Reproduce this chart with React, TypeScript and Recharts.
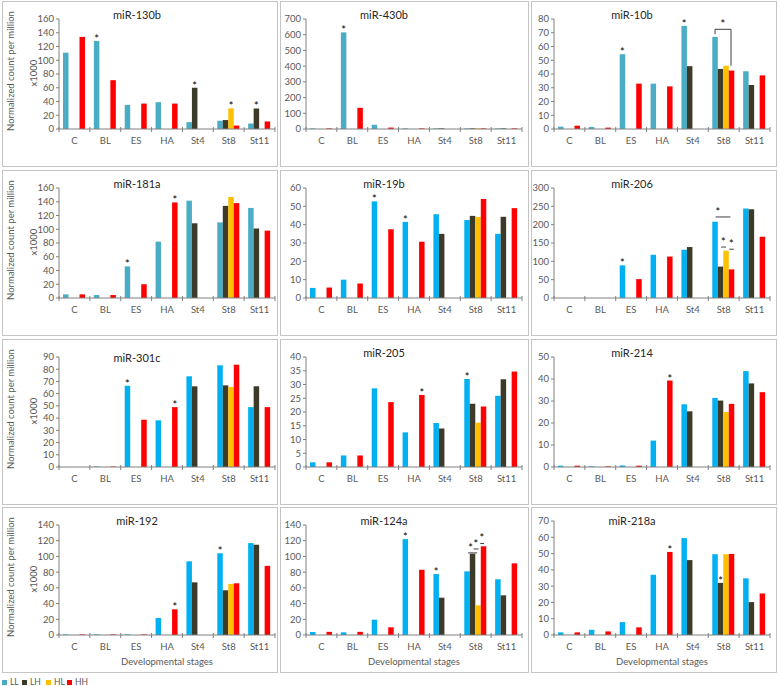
import React from "react";
import { BarChart, Bar, XAxis, YAxis, LabelList } from "recharts";

const stages = ["C", "BL", "ES", "HA", "St4", "St8", "St11"];
const groups = ["LL", "LH", "HL", "HH"];
const _ = null;

// normalized count per million (x1000), null = group not sampled at that stage
const mir130bLL = [111, 128, 35, 39, 10, 12, 8];
const mir130bLH = [_, _, _, _, 60, 13, 30];
const mir130bHL = [_, _, _, _, _, 30, _];
const mir130bHH = [134, 71, 37, 37, _, 5, 11];

const mir430bLL = [4, 615, 27, 4, 4, 4, 4];
const mir430bLH = [_, _, _, _, 4, 4, 4];
const mir430bHL = [_, _, _, _, _, 4, _];
const mir430bHH = [4, 135, 9, 4, _, 4, 4];

const mir10bLL = [1.7, 1.5, 54.4, 33, 75, 67, 42];
const mir10bLH = [_, _, _, _, 45.7, 43.7, 32];
const mir10bHL = [_, _, _, _, _, 46, _];
const mir10bHH = [2.4, 1, 33, 31, _, 42.5, 39];

const mir181aLL = [5.3, 4.3, 46, 82, 141.6, 110, 131];
const mir181aLH = [_, _, _, _, 108.7, 134, 101];
const mir181aHL = [_, _, _, _, _, 147, _];
const mir181aHH = [5.3, 4.3, 20, 139, _, 138, 98];

const mir19bLL = [5.5, 10, 52.7, 41.5, 45.7, 42.5, 35];
const mir19bLH = [_, _, _, _, 35, 44.8, 44.3];
const mir19bHL = [_, _, _, _, _, 44.2, _];
const mir19bHH = [5.7, 7.9, 37.5, 30.7, _, 54, 49];

const mir206LL = [0, 0, 89, 118, 131.6, 208, 244];
const mir206LH = [_, _, _, _, 139, 85.6, 242];
const mir206HL = [_, _, _, _, _, 129, _];
const mir206HH = [0, 0, 51.5, 113, _, 78, 167];

const mir301cLL = [0, 0.4, 66.5, 38.2, 74.2, 83.2, 49];
const mir301cLH = [_, _, _, _, 66, 66.8, 66];
const mir301cHL = [_, _, _, _, _, 65.5, _];
const mir301cHH = [0, 0.4, 38.7, 49, _, 83.7, 49];

const mir205LL = [1.7, 4.2, 28.6, 12.6, 16, 32, 25.9];
const mir205LH = [_, _, _, _, 14, 23, 31.9];
const mir205HL = [_, _, _, _, _, 16.1, _];
const mir205HH = [1.7, 4.2, 23.6, 26.2, _, 22, 34.7];

const mir214LL = [0.6, 0.3, 0.7, 12, 28.5, 31.4, 43.6];
const mir214LH = [_, _, _, _, 25.3, 30.2, 38];
const mir214HL = [_, _, _, _, _, 25, _];
const mir214HH = [0.6, 0.3, 0.6, 39.3, _, 28.7, 34];

const mir192LL = [0.8, 0.8, 0.8, 21.6, 93.8, 104, 117];
const mir192LH = [_, _, _, _, 67, 56.9, 115];
const mir192HL = [_, _, _, _, _, 65, _];
const mir192HH = [0.8, 0.8, 0.8, 32.7, _, 65.8, 88];

const mir124aLL = [3.8, 3.4, 19.5, 122, 77.6, 81, 70.9];
const mir124aLH = [_, _, _, _, 47.5, 103.5, 50.5];
const mir124aHL = [_, _, _, _, _, 37.8, _];
const mir124aHH = [4, 4, 9.8, 83, _, 112.9, 91.2];

const mir218aLL = [1.6, 3.2, 7.9, 37, 59.5, 49.6, 34.8];
const mir218aLH = [_, _, _, _, 46, 32, 20.2];
const mir218aHL = [_, _, _, _, _, 49.6, _];
const mir218aHH = [1.6, 2.2, 4.7, 51, _, 49.8, 25.5];

// y ticks
const ticks160 = [0, 20, 40, 60, 80, 100, 120, 140, 160];
const ticks700 = [0, 100, 200, 300, 400, 500, 600, 700];
const ticks80 = [0, 10, 20, 30, 40, 50, 60, 70, 80];
const ticks60 = [0, 10, 20, 30, 40, 50, 60];
const ticks300 = [0, 50, 100, 150, 200, 250, 300];
const ticks90 = [0, 10, 20, 30, 40, 50, 60, 70, 80, 90];
const ticks40 = [0, 5, 10, 15, 20, 25, 30, 35, 40];
const ticks50 = [0, 10, 20, 30, 40, 50];
const ticks140 = [0, 20, 40, 60, 80, 100, 120, 140];
const ticks70 = [0, 10, 20, 30, 40, 50, 60, 70];

// significance stars: [stage, group]
const stars130b = [["BL", "LL"], ["St4", "LH"], ["St8", "HL"], ["St11", "LH"]];
const stars430b = [["BL", "LL"]];
const stars10b = [["ES", "LL"], ["St4", "LL"]];
const stars181a = [["ES", "LL"], ["HA", "HH"]];
const stars19b = [["ES", "LL"], ["HA", "LL"]];
const stars206 = [["ES", "LL"]];
const stars301c = [["ES", "LL"], ["HA", "HH"]];
const stars205 = [["HA", "HH"], ["St8", "LL"]];
const stars214 = [["HA", "HH"]];
const stars192 = [["HA", "HH"], ["St8", "LL"]];
const stars124a = [["HA", "LL"], ["St4", "LL"]];
const stars218a = [["HA", "HH"], ["St8", "LH"]];

// comparison lines at St8 (x in bar widths from the LL bar, y in data units)
type Mark = { x0: number; x1: number; y: number; starX: number; drop0?: number; drop1?: number };
const marks10b: Mark[] = [{ x0: 0.5, x1: 3.4, y: 72.5, starX: 1.9, drop0: 69, drop1: 46 }];
const marks206: Mark[] = [
  { x0: 0.6, x1: 3.3, y: 221, starX: 1.0 },
  { x0: 1.6, x1: 2.5, y: 139, starX: 2.0 },
  { x0: 3.1, x1: 3.9, y: 133, starX: 3.45 },
];
const marks124a: Mark[] = [
  { x0: 0.7, x1: 2.35, y: 104.5, starX: 1.15 },
  { x0: 1.7, x1: 2.6, y: 109.5, starX: 2.1 },
  { x0: 2.9, x1: 3.6, y: 116.5, starX: 3.2 },
];

const TEAL = "#4BACC6";
const CYAN = "#00B0F0";
const colors: Record<string, string> = { LH: "#3D3A27", HL: "#FFC000", HH: "#FF0000" };

const panels = [
  { title: "miR-130b", s: [mir130bLL, mir130bLH, mir130bHL, mir130bHH], ticks: ticks160, stars: stars130b, blue: TEAL },
  { title: "miR-430b", s: [mir430bLL, mir430bLH, mir430bHL, mir430bHH], ticks: ticks700, stars: stars430b, blue: TEAL },
  { title: "miR-10b", s: [mir10bLL, mir10bLH, mir10bHL, mir10bHH], ticks: ticks80, stars: stars10b, blue: TEAL, marks: marks10b },
  { title: "miR-181a", s: [mir181aLL, mir181aLH, mir181aHL, mir181aHH], ticks: ticks160, stars: stars181a, blue: TEAL },
  { title: "miR-19b", s: [mir19bLL, mir19bLH, mir19bHL, mir19bHH], ticks: ticks60, stars: stars19b, blue: CYAN },
  { title: "miR-206", s: [mir206LL, mir206LH, mir206HL, mir206HH], ticks: ticks300, stars: stars206, blue: CYAN, marks: marks206 },
  { title: "miR-301c", s: [mir301cLL, mir301cLH, mir301cHL, mir301cHH], ticks: ticks90, stars: stars301c, blue: CYAN, titleDy: 5 },
  { title: "miR-205", s: [mir205LL, mir205LH, mir205HL, mir205HH], ticks: ticks40, stars: stars205, blue: CYAN },
  { title: "miR-214", s: [mir214LL, mir214LH, mir214HL, mir214HH], ticks: ticks50, stars: stars214, blue: CYAN },
  { title: "miR-192", s: [mir192LL, mir192LH, mir192HL, mir192HH], ticks: ticks140, stars: stars192, blue: CYAN },
  { title: "miR-124a", s: [mir124aLL, mir124aLH, mir124aHL, mir124aHH], ticks: ticks140, stars: stars124a, blue: CYAN, marks: marks124a },
  { title: "miR-218a", s: [mir218aLL, mir218aLH, mir218aHL, mir218aHH], ticks: ticks70, stars: stars218a, blue: CYAN, plotTop: 13 },
];

const FONT = "Lato, 'Open Sans', sans-serif";
const AXIS = "#808080";
const TEXT = "#595959";

const COL_X = [2, 280, 531];
const COL_W = [276, 249, 246];
const ROW_Y = [1, 170, 339, 507];
const PANEL_H = 166;
const PLOT_LEFT = [56, 25, 22];
const PLOT_W = 216;
const PLOT_BOTTOM = 127;
const Y_W = 22;
const X_H = 30;

function StageTick(props: any) {
  const { x, y, payload, index, band } = props;
  const h = band / 2;
  return (
    <g>
      <line x1={x - h} x2={x - h} y1={y - 2} y2={y + 3} stroke={AXIS} />
      {index === stages.length - 1 && <line x1={x + h} x2={x + h} y1={y - 2} y2={y + 3} stroke={AXIS} />}
      <text x={x} y={y + 15} textAnchor="middle" fontSize={9.5} fill={TEXT} fontFamily={FONT}>
        {payload.value}
      </text>
    </g>
  );
}

const geom = (p: any) => {
  const vb = p.viewBox || {};
  return {
    x: p.x ?? vb.x,
    y: p.y ?? vb.y,
    width: p.width ?? vb.width,
    height: p.height ?? vb.height,
  };
};

// label value is the stage name (zero / empty bars are skipped, so index is unreliable)
const starLabel = (stars: string[][], key: string) => (p: any) => {
  const stage = p.value;
  if (!stars.some((s) => s[0] === stage && s[1] === key)) return null;
  const g = geom(p);
  return (
    <text x={g.x + g.width / 2} y={g.y + 2} textAnchor="middle" fontSize={11} fill="#000" fontFamily={FONT}>
      *
    </text>
  );
};

// St8 comparison lines, hung on the LL bar
const markLabel = (marks: Mark[], ll: (number | null)[]) => (p: any) => {
  if (p.value !== "St8") return null;
  const v = ll[stages.indexOf("St8")];
  if (!v) return null;
  const g = geom(p);
  const bottom = g.y + g.height;
  const k = g.height / v;
  const Y = (n: number) => bottom - n * k;
  const X = (u: number) => g.x + u * g.width;
  return (
    <g>
      {marks.map((m, i) => (
        <g key={i}>
          <line x1={X(m.x0)} x2={X(m.x1)} y1={Y(m.y)} y2={Y(m.y)} stroke="#404040" />
          {m.drop0 !== undefined && <line x1={X(m.x0)} x2={X(m.x0)} y1={Y(m.y)} y2={Y(m.drop0)} stroke="#404040" />}
          {m.drop1 !== undefined && <line x1={X(m.x1)} x2={X(m.x1)} y1={Y(m.y)} y2={Y(m.drop1)} stroke="#404040" />}
          <text x={X(m.starX)} y={Y(m.y) - 1} textAnchor="middle" fontSize={11} fill="#000" fontFamily={FONT}>
            *
          </text>
        </g>
      ))}
    </g>
  );
};

function Panel({ panel, col, row }: any) {
  const w = COL_W[col];
  const cw = w - 2;
  const ch = PANEL_H - 2;
  const plotLeft = PLOT_LEFT[col];
  const plotTop = panel.plotTop ?? 17;
  const yMax = panel.ticks[panel.ticks.length - 1];
  const data = stages.map((st, i) => ({
    stage: st,
    LL: panel.s[0][i],
    LH: panel.s[1][i],
    HL: panel.s[2][i],
    HH: panel.s[3][i],
  }));

  return (
    <div
      style={{
        position: "absolute",
        left: COL_X[col],
        top: ROW_Y[row],
        width: w,
        height: PANEL_H,
        border: "1px solid #c4c4c4",
        boxSizing: "border-box",
      }}
    >
      <BarChart
        width={cw}
        height={ch}
        data={data}
        barGap={0}
        margin={{ top: plotTop, left: plotLeft - Y_W, right: cw - plotLeft - PLOT_W, bottom: ch - PLOT_BOTTOM - X_H }}
      >
        <XAxis
          dataKey="stage"
          height={X_H}
          interval={0}
          tickSize={0}
          tickMargin={0}
          tickLine={false}
          axisLine={{ stroke: AXIS }}
          tick={<StageTick band={PLOT_W / stages.length} />}
        />
        <YAxis
          width={Y_W}
          domain={[0, yMax]}
          ticks={panel.ticks}
          interval={0}
          tickSize={3}
          tickMargin={2}
          axisLine={{ stroke: AXIS }}
          tickLine={{ stroke: AXIS }}
          tick={{ fontSize: 9.5, fill: TEXT, fontFamily: FONT }}
        />
        {groups.map((key) => (
          <Bar
            key={key}
            dataKey={key}
            fill={key === "LL" ? panel.blue : colors[key]}
            barSize={5.5}
            isAnimationActive={false}
          >
            <LabelList dataKey="stage" content={starLabel(panel.stars, key)} />
            {key === "LL" && panel.marks && <LabelList dataKey="stage" content={markLabel(panel.marks, panel.s[0])} />}
          </Bar>
        ))}
      </BarChart>

      <div
        style={{
          position: "absolute",
          left: plotLeft + 78,
          top: 12 + (panel.titleDy ?? 0),
          transform: "translate(-50%, -50%)",
          fontSize: 11,
          color: "#262626",
          fontFamily: FONT,
          whiteSpace: "nowrap",
        }}
      >
        {panel.title}
      </div>

      {col === 0 && (
        <>
          <div
            style={{
              position: "absolute",
              left: 7,
              top: 69,
              transform: "translate(-50%, -50%) rotate(-90deg)",
              fontSize: 9.5,
              color: TEXT,
              fontFamily: FONT,
              whiteSpace: "nowrap",
            }}
          >
            Normalized count per million
          </div>
          <div
            style={{
              position: "absolute",
              left: 30,
              top: 71,
              transform: "translate(-50%, -50%) rotate(-90deg)",
              fontSize: 9.5,
              color: TEXT,
              fontFamily: FONT,
              whiteSpace: "nowrap",
            }}
          >
            x1000
          </div>
        </>
      )}

      {row === 3 && (
        <div
          style={{
            position: "absolute",
            left: plotLeft + PLOT_W / 2,
            top: 153,
            transform: "translate(-50%, -50%)",
            fontSize: 9.5,
            color: TEXT,
            fontFamily: FONT,
            whiteSpace: "nowrap",
          }}
        >
          Developmental stages
        </div>
      )}
    </div>
  );
}

const legendItems = [
  { label: "LL", color: TEAL, x: 2 },
  { label: "LH", color: colors.LH, x: 22 },
  { label: "HL", color: colors.HL, x: 46 },
  { label: "HH", color: colors.HH, x: 67 },
];

export default function App() {
  return (
    <div
      style={{
        position: "absolute",
        left: 0,
        top: 0,
        width: 778,
        height: 686,
        background: "#fff",
        overflow: "hidden",
        fontFamily: FONT,
      }}
    >
      {panels.map((p, i) => (
        <Panel key={p.title} panel={p} col={i % 3} row={Math.floor(i / 3)} />
      ))}

      {legendItems.map((it) => (
        <div
          key={it.label}
          style={{
            position: "absolute",
            left: it.x,
            top: 677,
            display: "flex",
            alignItems: "center",
            fontSize: 8.5,
            color: TEXT,
            fontFamily: FONT,
            lineHeight: "10px",
          }}
        >
          <span style={{ display: "inline-block", width: 5, height: 5, background: it.color, marginRight: 3 }} />
          {it.label}
        </div>
      ))}
    </div>
  );
}
